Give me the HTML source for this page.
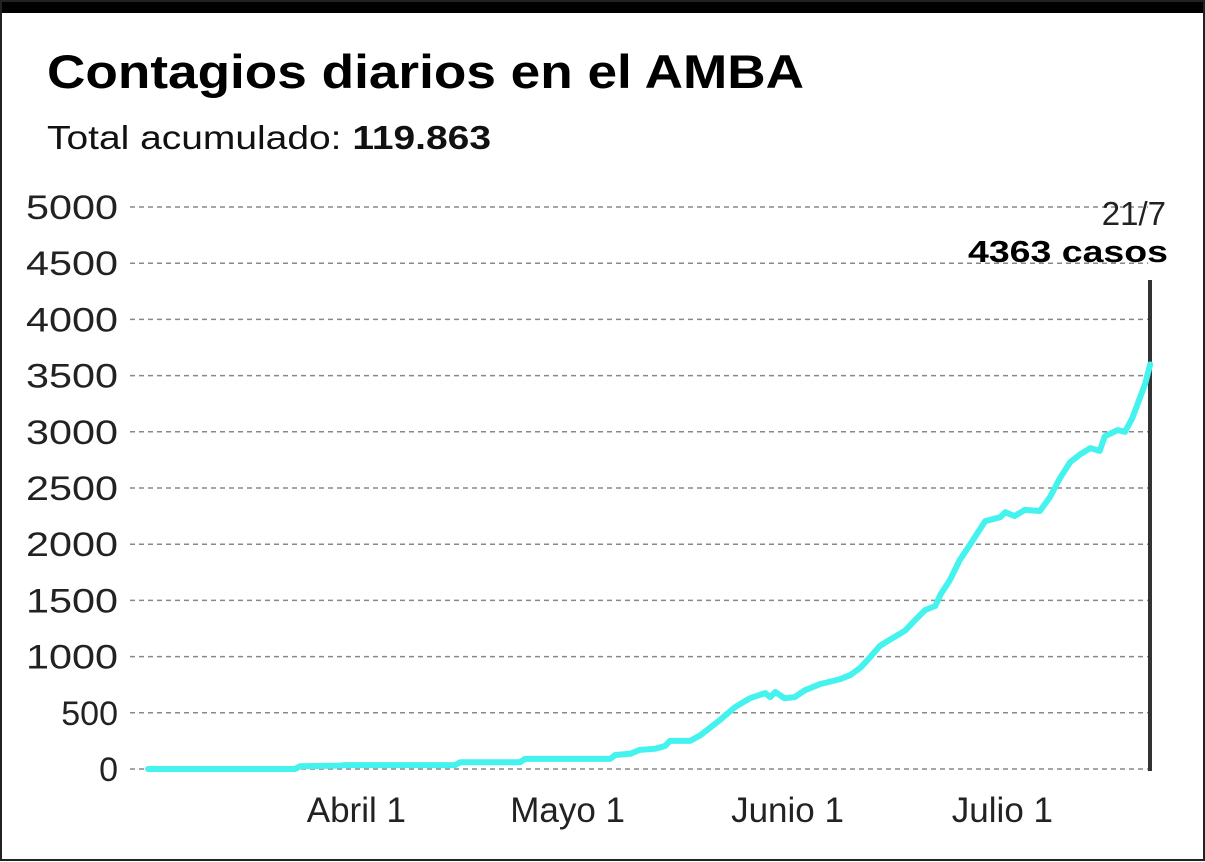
<!DOCTYPE html>
<html><head><meta charset="utf-8"><style>
html,body{margin:0;padding:0;background:#fff;}
svg{display:block;font-family:"Liberation Sans",sans-serif;}
</style></head><body>
<svg width="1205" height="862" viewBox="0 0 1205 862">
<rect x="0" y="0" width="1205" height="13" fill="#000"/>
<rect x="1" y="1" width="1203" height="859" fill="none" stroke="#222" stroke-width="2"/>
<text x="47" y="88" font-size="47" font-weight="bold" fill="#000" textLength="757" lengthAdjust="spacingAndGlyphs">Contagios diarios en el AMBA</text>
<text x="47" y="149" font-size="33" fill="#111" textLength="444" lengthAdjust="spacingAndGlyphs">Total acumulado: <tspan font-weight="bold">119.863</tspan></text>
<g id="grid"></g><g id="yticks"></g><g id="xticks"></g>
<line x1="1150" y1="280" x2="1150" y2="771" stroke="#333" stroke-width="4"/>
<path id="series" fill="none" stroke="#44f2ee" stroke-width="6" stroke-linejoin="round" stroke-linecap="round"/>
<text x="1166" y="225" font-size="33" text-anchor="end" fill="#222">21/7</text>
<text x="1168" y="262" font-size="31" font-weight="bold" text-anchor="end" fill="#000" textLength="200" lengthAdjust="spacingAndGlyphs">4363 casos</text>
</svg>
<script>
const yTicks=[0,500,1000,1500,2000,2500,3000,3500,4000,4500,5000];
const xTickLabels=["Abril 1","Mayo 1","Junio 1","Julio 1"];
const xTickDays=[28.9,58.2,88.7,118.5];
const days=[0,7.2,20.4,21.1,26.6,27.3,42.6,43.3,51.6,52.3,64.1,64.8,66.9,68.2,70.3,71.7,72.4,75.2,76.6,79.3,81.4,83.5,85.6,86.3,87.0,88.3,89.7,91.1,93.2,96.0,97.4,98.8,100.1,101.5,102.9,105.0,106.4,107.8,109.2,109.9,111.2,112.6,114.0,116.1,118.2,118.9,120.2,121.6,123.7,125.1,126.5,127.9,129.3,130.7,132.0,132.7,134.5,135.5,136.5,138.3,139];
const cases=[0,0,0,25,30,35,35,60,60,90,90,125,135,170,180,205,250,250,300,435,550,630,675,640,685,630,640,700,755,800,835,900,990,1095,1150,1230,1325,1415,1450,1550,1680,1860,1995,2205,2240,2285,2250,2305,2295,2420,2590,2730,2800,2855,2830,2960,3015,3000,3120,3425,3600];
const NS="http://www.w3.org/2000/svg";
const x=d=>148+d*7.21;
const y=v=>769-v*0.1124;
const grid=document.getElementById('grid'),yt=document.getElementById('yticks'),xt=document.getElementById('xticks');
yTicks.forEach(v=>{
  const l=document.createElementNS(NS,'line');
  l.setAttribute('x1',130);l.setAttribute('x2',1148);l.setAttribute('y1',y(v));l.setAttribute('y2',y(v));
  l.setAttribute('stroke','#888');l.setAttribute('stroke-width','1.5');l.setAttribute('stroke-dasharray','5,4');
  
  
  grid.appendChild(l);
  const t=document.createElementNS(NS,'text');
  t.setAttribute('x',118);t.setAttribute('y',y(v)+12);t.setAttribute('text-anchor','end');
  t.setAttribute('font-size','34');t.setAttribute('fill','#222');t.textContent=v;
  if(v>=1000){t.setAttribute('textLength','92');t.setAttribute('lengthAdjust','spacingAndGlyphs');}
  
  
  yt.appendChild(t);
});
xTickLabels.forEach((s,i)=>{
  const t=document.createElementNS(NS,'text');
  t.setAttribute('x',x(xTickDays[i]));t.setAttribute('y',822);t.setAttribute('text-anchor','middle');
  t.setAttribute('font-size','35');t.setAttribute('fill','#222');t.textContent=s;
  
  
  xt.appendChild(t);
});
document.getElementById('series').setAttribute('d',days.map((d,i)=>(i?'L':'M')+x(d).toFixed(1)+','+y(cases[i]).toFixed(1)).join(''));
</script>
</body></html>
